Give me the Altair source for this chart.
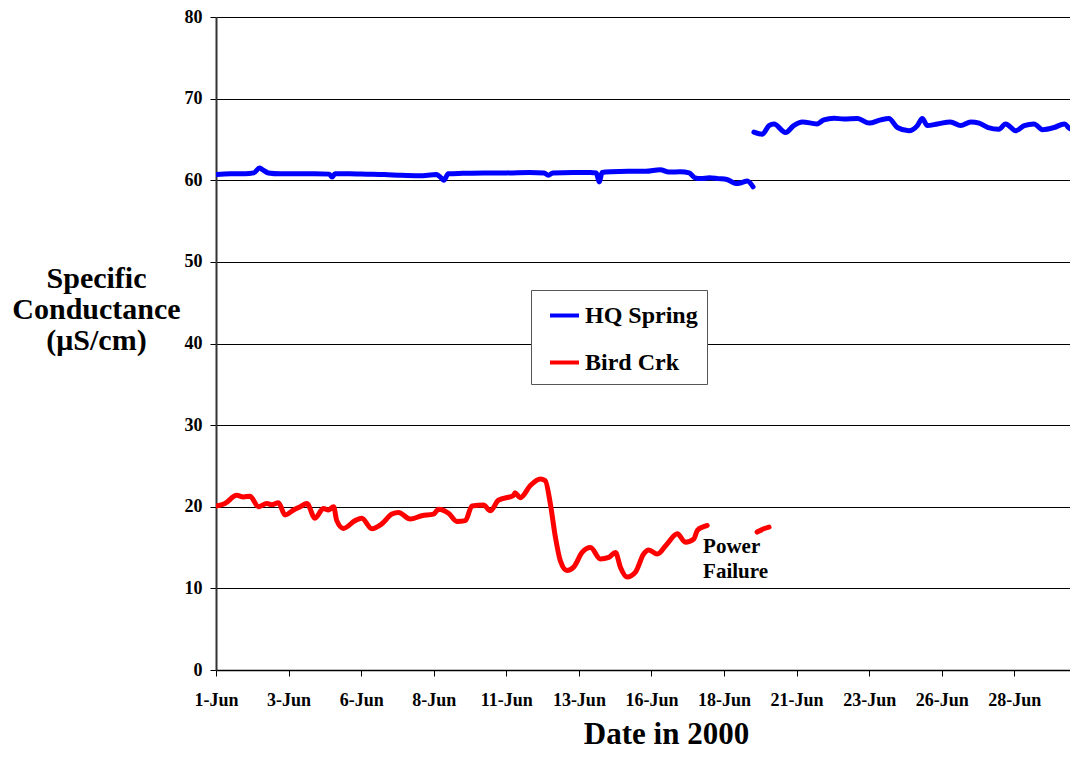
import altair as alt
import pandas as pd

# ---- data (days since 1-Jun-2000, specific conductance in uS/cm) ----
hq_day_1 = [0.0, 0.5, 1.0, 1.3, 1.5, 1.6, 1.8, 2.2, 2.8, 3.4,
            3.9, 4.0, 4.1, 4.6, 5.2, 5.8, 6.4, 7.0, 7.6, 7.75,
            7.85, 8.0, 8.5, 9.2, 10.0, 10.8, 11.3, 11.45, 11.6, 12.3,
            12.9, 13.1, 13.2, 13.3, 13.6, 14.2, 14.8, 15.3, 15.6, 16.0,
            16.3, 16.5, 16.7, 17.0, 17.3, 17.6, 17.9, 18.1, 18.3, 18.5]
hq_val_1 = [60.7, 60.8, 60.8, 60.9, 61.5, 61.3, 60.9, 60.8, 60.8, 60.8,
            60.75, 60.4, 60.8, 60.8, 60.75, 60.7, 60.6, 60.55, 60.7, 60.3,
            60.0, 60.8, 60.85, 60.9, 60.9, 60.95, 60.9, 60.6, 60.9, 60.95,
            60.95, 60.9, 59.8, 60.95, 61.05, 61.1, 61.1, 61.3, 61.0, 61.05,
            60.9, 60.3, 60.2, 60.3, 60.2, 60.1, 59.6, 59.7, 59.9, 59.2]

hq_day_2 = [18.53, 18.82, 19.05, 19.22, 19.62, 19.9, 20.2, 20.7, 20.94, 21.29,
            21.63, 22.1, 22.5, 22.9, 23.18, 23.47, 23.87, 24.16, 24.33, 24.5,
            24.85, 25.3, 25.65, 26.0, 26.29, 26.6, 26.97, 27.2, 27.55, 27.84,
            28.18, 28.47, 28.87, 29.22, 29.45, 29.68]
hq_val_2 = [65.9, 65.65, 66.7, 66.9, 65.85, 66.7, 67.15, 66.9, 67.4, 67.6,
            67.5, 67.56, 67.0, 67.4, 67.56, 66.46, 66.06, 66.7, 67.56, 66.7,
            66.9, 67.15, 66.7, 67.15, 67.0, 66.46, 66.26, 66.9, 66.06, 66.7,
            66.9, 66.2, 66.46, 66.9, 66.26, 66.76]

bird_day_1 = [0.0, 0.31, 0.71, 0.94, 1.17, 1.46, 1.75, 1.92, 2.15, 2.38,
              2.67, 2.9, 3.13, 3.41, 3.7, 3.87, 4.05, 4.16, 4.39, 4.79,
              5.02, 5.37, 5.71, 6.06, 6.29, 6.69, 7.09, 7.49, 7.67, 8.01,
              8.3, 8.59, 8.82, 9.22, 9.45, 9.73, 10.25, 10.3, 10.48, 10.83,
              11.17, 11.34, 11.52, 11.69, 11.86, 12.09, 12.32, 12.61, 12.9, 13.24,
              13.53, 13.76, 13.93, 14.16, 14.45, 14.73, 14.91, 15.2, 15.54, 15.89,
              16.17, 16.46, 16.58, 16.75, 16.92]
bird_val_1 = [20.1, 20.4, 21.4, 21.2, 21.3, 20.0, 20.4, 20.25, 20.5, 19.0,
              19.6, 20.0, 20.4, 18.6, 19.8, 19.6, 20.0, 18.3, 17.35, 18.3,
              18.6, 17.3, 17.9, 19.1, 19.3, 18.5, 18.9, 19.1, 19.7, 19.2,
              18.2, 18.3, 20.1, 20.2, 19.5, 20.8, 21.4, 21.7, 21.1, 22.6,
              23.4, 23.2, 20.3, 16.3, 13.4, 12.2, 12.6, 14.4, 15.0, 13.6,
              13.8, 14.4, 12.6, 11.4, 12.0, 14.2, 14.7, 14.2, 15.45, 16.7,
              15.65, 16.05, 17.1, 17.5, 17.7]

bird_day_2 = [18.64, 18.87, 19.05]
bird_val_2 = [16.9, 17.3, 17.5]

series_names = ["HQ Spring", "Bird Crk"]
series_colors = ["#0000FF", "#FF0000"]

tick_days = [0, 2.5, 5, 7.5, 10, 12.5, 15, 17.5, 20, 22.5, 25, 27.5]
tick_labels = ["1-Jun", "3-Jun", "6-Jun", "8-Jun", "11-Jun", "13-Jun",
               "16-Jun", "18-Jun", "21-Jun", "23-Jun", "26-Jun", "28-Jun"]
y_ticks = [0, 10, 20, 30, 40, 50, 60, 70, 80]

annot_text = ["Power\nFailure"]
annot_day = [16.78]
annot_val = [14.3]

# ---- build table ----
rows = []
for d, v in zip(hq_day_1, hq_val_1):
    rows.append({"day": d, "value": v, "series": "HQ Spring", "seg": "hq1"})
for d, v in zip(hq_day_2, hq_val_2):
    rows.append({"day": d, "value": v, "series": "HQ Spring", "seg": "hq2"})
for d, v in zip(bird_day_1, bird_val_1):
    rows.append({"day": d, "value": v, "series": "Bird Crk", "seg": "b1"})
for d, v in zip(bird_day_2, bird_val_2):
    rows.append({"day": d, "value": v, "series": "Bird Crk", "seg": "b2"})
df = pd.DataFrame(rows)
annot = pd.DataFrame({"text": annot_text, "day": annot_day, "value": annot_val})

FONT = "Liberation Serif"
PX_PER_DAY = 29.03
PLOT_W, PLOT_H = 854, 653
x_max = PLOT_W / PX_PER_DAY

labels_js = "[" + ",".join("'%s'" % l for l in tick_labels) + "]"
days_js = "[" + ",".join(str(d) for d in tick_days) + "]"
label_expr = f"{labels_js}[indexof({days_js}, datum.value)]"

x_enc = alt.X(
    "day:Q",
    scale=alt.Scale(domain=[0, x_max], nice=False, zero=False),
    axis=alt.Axis(
        values=tick_days, labelExpr=label_expr, grid=False,
        title="Date in 2000", titleFont=FONT, titleFontSize=31, titleFontWeight="bold",
        titleColor="black", titleX=450, titleY=73, titleBaseline="alphabetic",
        titleAlign="center",
        labelFont=FONT, labelFontSize=18, labelFontWeight="bold", labelColor="black",
        labelBaseline="alphabetic", labelPadding=29, labelAlign="center",
        tickSize=6, tickColor="black", domainColor="black", domainWidth=1.5,
    ),
)
y_enc = alt.Y(
    "value:Q",
    scale=alt.Scale(domain=[0, 80], nice=False),
    axis=alt.Axis(
        values=y_ticks, grid=True, gridColor="black", gridWidth=1,
        title=["Specific", "Conductance", "(\u03bcS/cm)"], titleAngle=0,
        titleFont=FONT, titleFontSize=30, titleFontWeight="bold", titleColor="black",
        titleLineHeight=31, titleAlign="center", titleBaseline="alphabetic",
        titleX=-120, titleY=270,
        labelFont=FONT, labelFontSize=18, labelFontWeight="bold", labelColor="black",
        labelPadding=8, tickSize=6, tickColor="black",
        domainColor="#333333", domainWidth=2,
    ),
)

lines = alt.Chart(df).mark_line(
    strokeWidth=5, interpolate="monotone", strokeCap="round", strokeJoin="round", clip=True
).encode(
    x=x_enc,
    y=y_enc,
    color=alt.Color(
        "series:N",
        scale=alt.Scale(domain=series_names, range=series_colors),
        legend=alt.Legend(
            title=None, orient="none", legendX=315, legendY=273,
            symbolType="stroke", symbolSize=841, symbolStrokeWidth=4,
            labelFont=FONT, labelFontSize=24, labelFontWeight="bold", labelColor="black",
            labelOffset=4, padding=9, symbolOffset=8, rowPadding=18,
            labelExpr="datum.label + '\u00a0\u00a0\u00a0\u00a0\u00a0'",
            fillColor="white", strokeColor="#555555",
        ),
    ),
    detail="seg:N",
)

text = alt.Chart(annot).mark_text(
    align="left", baseline="alphabetic", lineBreak="\n", font=FONT,
    fontSize=21, fontWeight="bold", lineHeight=25, color="black",
).encode(x="day:Q", y="value:Q", text="text:N")

chart = alt.layer(lines, text).properties(
    width=PLOT_W, height=PLOT_H,
    autosize=alt.AutoSizeParams(type="none"),
    padding={"left": 208, "top": 9, "right": 0, "bottom": 81},
    background="white",
).configure_view(stroke=None)

chart.save("out.html", embed_options={"renderer": "svg", "actions": False})
